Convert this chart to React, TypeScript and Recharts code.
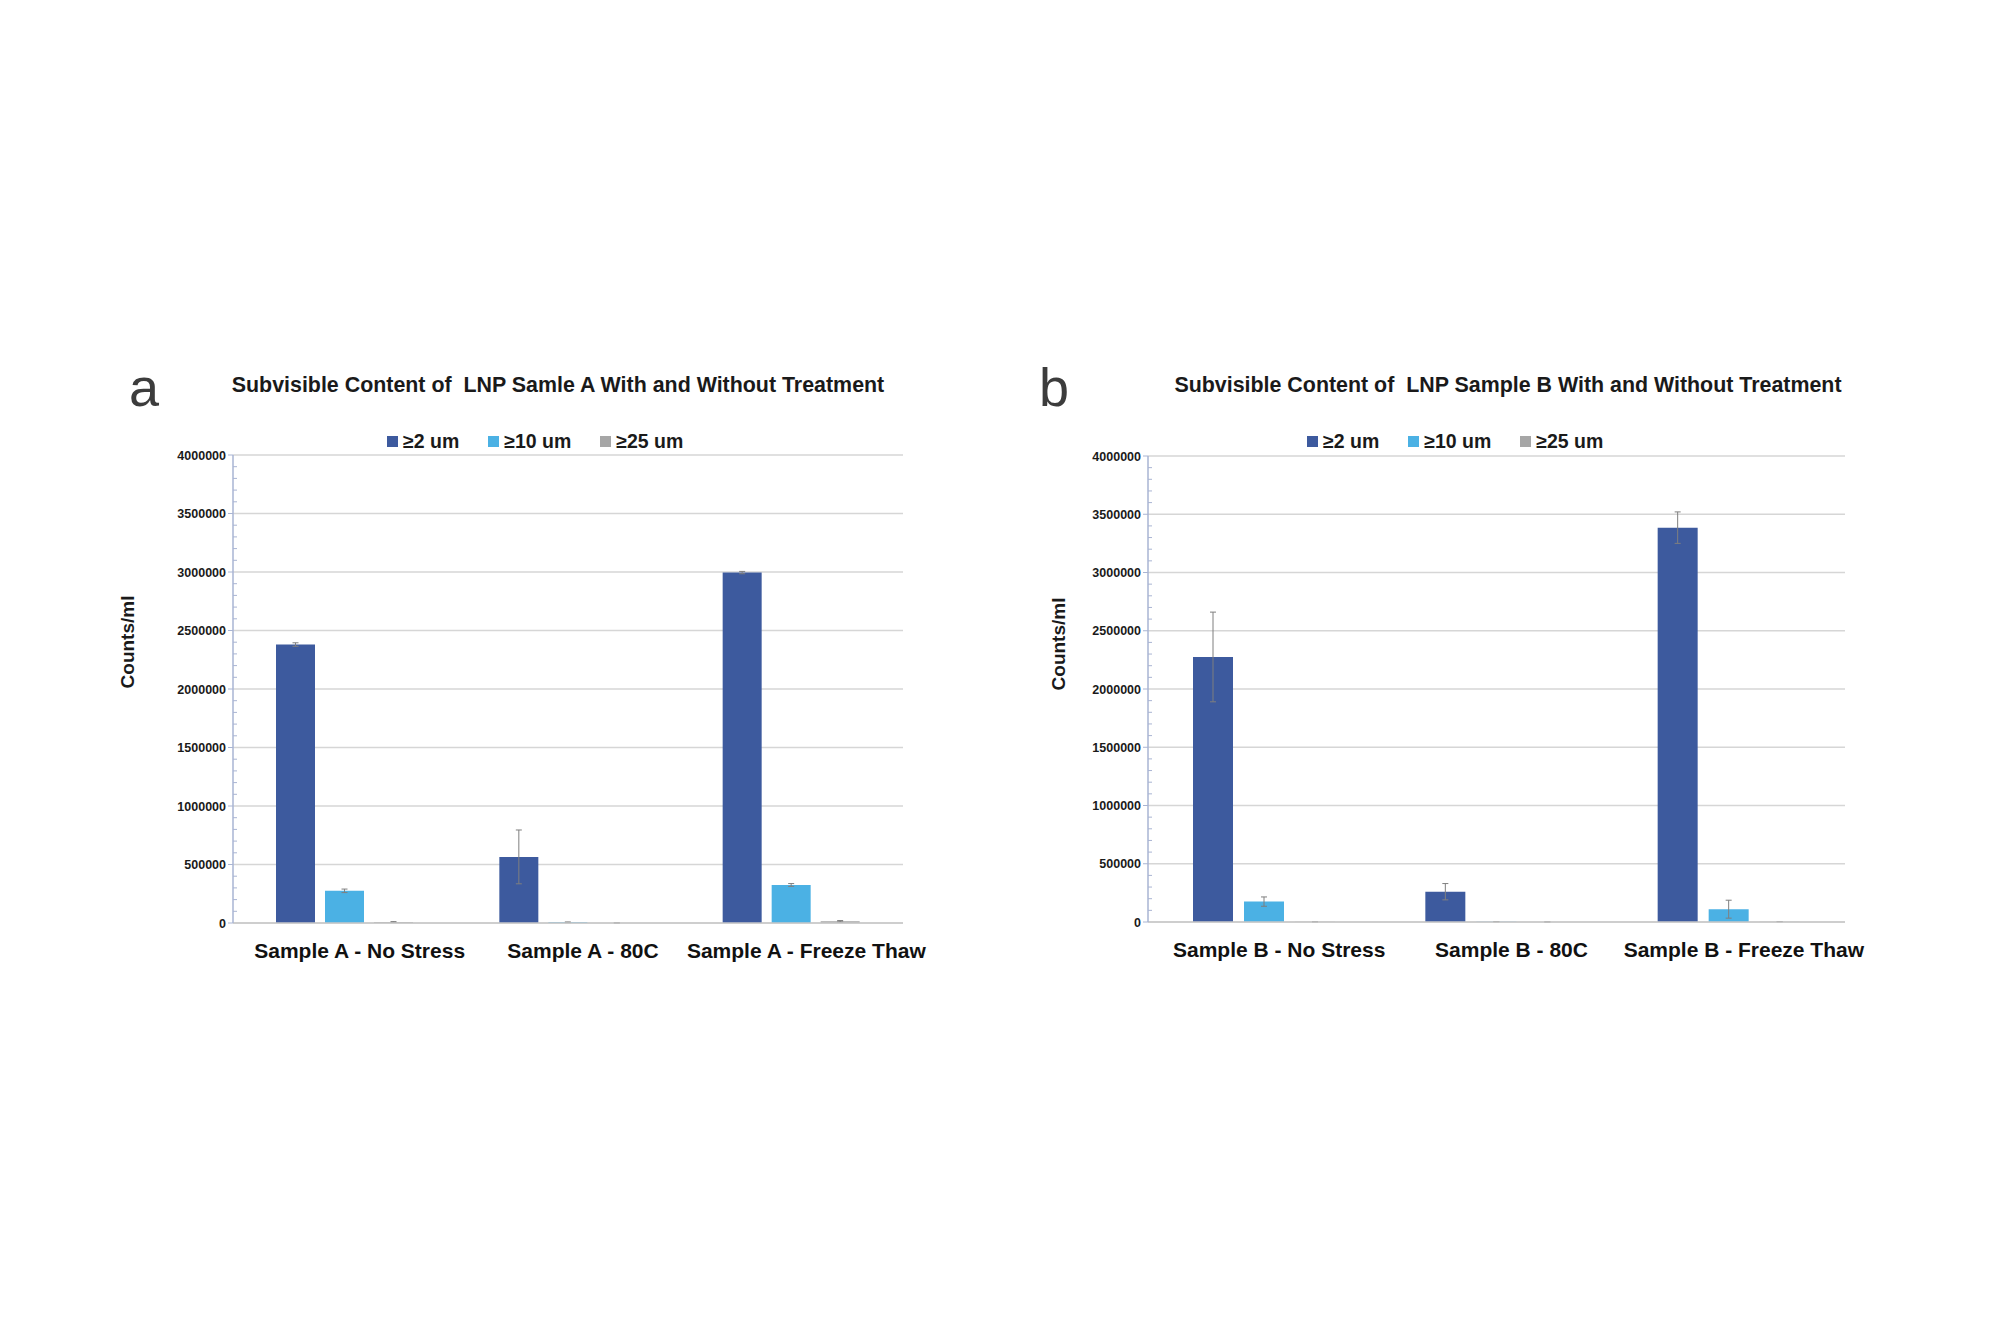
import React from 'react';
import { BarChart, Bar, XAxis, YAxis, CartesianGrid, ErrorBar, Legend } from 'recharts';

const FONT = "'Liberation Sans', Arial, Helvetica, sans-serif";

// Panel a: LNP sample A
const categoriesA = ['Sample A - No Stress', 'Sample A - 80C', 'Sample A - Freeze Thaw'];
const ge2A = [2380000, 565000, 2995000];
const ge2ErrA = [15000, 230000, 10000];
const ge10A = [275000, 6000, 325000];
const ge10ErrA = [15000, 3000, 12000];
const ge25A = [8000, 1000, 15000];
const ge25ErrA = [4000, 500, 6000];

// Panel b: LNP sample B
const categoriesB = ['Sample B - No Stress', 'Sample B - 80C', 'Sample B - Freeze Thaw'];
const ge2B = [2275000, 260000, 3385000];
const ge2ErrB = [385000, 70000, 135000];
const ge10B = [175000, 3000, 110000];
const ge10ErrB = [40000, 1000, 77000];
const ge25B = [2000, 1000, 3000];
const ge25ErrB = [500, 500, 500];

const seriesNames = ['≥2 um', '≥10 um', '≥25 um'];
const seriesColors = ['#3D5A9E', '#4BB1E4', '#A6A6A6'];

const majorTicks = [0, 500000, 1000000, 1500000, 2000000, 2500000, 3000000, 3500000, 4000000];
const minorStep = 100000;
const yMax = 4000000;
const allTicks = Array.from({ length: yMax / minorStep + 1 }, (_, i) => i * minorStep);

const AXIS_Y = '#A9B4D3';
const GRID = '#D6D6D6';
const ERR = '#7F7F7F';

type Row = { name: string; ge2: number; ge2Err: number; ge10: number; ge10Err: number; ge25: number; ge25Err: number };

function buildRows(cats: string[], a: number[], ae: number[], b: number[], be: number[], c: number[], ce: number[]): Row[] {
  return cats.map((name, i) => ({ name, ge2: a[i], ge2Err: ae[i], ge10: b[i], ge10Err: be[i], ge25: c[i], ge25Err: ce[i] }));
}

const rowsA = buildRows(categoriesA, ge2A, ge2ErrA, ge10A, ge10ErrA, ge25A, ge25ErrA);
const rowsB = buildRows(categoriesB, ge2B, ge2ErrB, ge10B, ge10ErrB, ge25B, ge25ErrB);

const YTick = (props: any) => {
  const { x, y, payload } = props;
  const v = payload.value as number;
  if (majorTicks.includes(v)) {
    return (
      <g>
        <line x1={x - 5} x2={x} y1={y} y2={y} stroke={AXIS_Y} strokeWidth={1} />
        <text x={x - 7} y={y} dy="0.36em" textAnchor="end" fontSize={12.5} fontWeight="bold" fill="#1a1a1a" fontFamily={FONT}>
          {v}
        </text>
      </g>
    );
  }
  return <line x1={x} x2={x + 4} y1={y} y2={y} stroke={AXIS_Y} strokeWidth={1} />;
};

const XTick = (props: any) => {
  const { x, y, payload } = props;
  return (
    <text x={x + 15} y={y + 35} textAnchor="middle" fontSize={21} fontWeight="bold" fill="#111" fontFamily={FONT}>
      {payload.value}
    </text>
  );
};

// Legend entries kept in series order (≥2, ≥10, ≥25)
const LegendContent = (props: any) => {
  const fromPayload = (props.payload || []) as any[];
  const items = seriesNames.map((n, i) => {
    const hit = fromPayload.find((p) => p.value === n);
    return { value: n, color: hit ? hit.color : seriesColors[i] };
  });
  return (
    <div style={{ display: 'flex', alignItems: 'center', fontFamily: FONT, fontSize: 19.5, fontWeight: 'bold', color: '#1a1a1a', lineHeight: '22px', whiteSpace: 'nowrap' }}>
      {items.map((it, i) => (
        <div key={i} style={{ display: 'flex', alignItems: 'center', marginRight: i < items.length - 1 ? 29 : 0 }}>
          <span style={{ display: 'inline-block', width: 11, height: 11, background: it.color, marginRight: 5 }} />
          <span>{it.value}</span>
        </div>
      ))}
    </div>
  );
};

type PanelProps = {
  rows: Row[];
  left: number;
  top: number;
  width: number;
  height: number;
  margin: { top: number; right: number; bottom: number; left: number };
  barSize: number;
  barGap: number;
  legendLeft: number;
  legendTop: number;
};

const Panel = ({ rows, left, top, width, height, margin, barSize, barGap, legendLeft, legendTop }: PanelProps) => (
  <div style={{ position: 'absolute', left, top }}>
    <BarChart width={width} height={height} data={rows} margin={margin} barSize={barSize} barGap={barGap}>
      <CartesianGrid vertical={false} horizontalValues={majorTicks} stroke={GRID} strokeWidth={1.5} />
      <XAxis
        dataKey="name"
        height={50}
        interval={0}
        tickLine={false}
        tickSize={0}
        tickMargin={0}
        axisLine={{ stroke: '#C8C8C8', strokeWidth: 1.5 }}
        tick={<XTick />}
      />
      <YAxis
        width={80}
        domain={[0, yMax]}
        ticks={allTicks}
        interval={0}
        tickLine={false}
        tickSize={0}
        tickMargin={0}
        axisLine={{ stroke: AXIS_Y, strokeWidth: 1.5 }}
        tick={<YTick />}
      />
      <Legend
        layout="horizontal"
        verticalAlign="middle"
        align="center"
        content={<LegendContent />}
        wrapperStyle={{ left: legendLeft, top: legendTop, width: 'auto' }}
      />
      <Bar dataKey="ge2" name={seriesNames[0]} fill={seriesColors[0]} isAnimationActive={false}>
        <ErrorBar dataKey="ge2Err" width={3} stroke={ERR} strokeWidth={1} direction="y" />
      </Bar>
      <Bar dataKey="ge10" name={seriesNames[1]} fill={seriesColors[1]} isAnimationActive={false}>
        <ErrorBar dataKey="ge10Err" width={3} stroke={ERR} strokeWidth={1} direction="y" />
      </Bar>
      <Bar dataKey="ge25" name={seriesNames[2]} fill={seriesColors[2]} isAnimationActive={false}>
        <ErrorBar dataKey="ge25Err" width={3} stroke={ERR} strokeWidth={1} direction="y" />
      </Bar>
    </BarChart>
  </div>
);

export default function App() {
  return (
    <div style={{ position: 'absolute', left: 0, top: 0, width: 2000, height: 1333, background: '#fff', overflow: 'hidden' }}>
      <Panel
        rows={rowsA}
        left={80}
        top={400}
        width={860}
        height={600}
        margin={{ top: 55, right: 37, bottom: 27, left: 73 }}
        barSize={39}
        barGap={10}
        legendLeft={307}
        legendTop={30}
      />
      <Panel
        rows={rowsB}
        left={1000}
        top={400}
        width={900}
        height={600}
        margin={{ top: 56, right: 55, bottom: 28, left: 68 }}
        barSize={40}
        barGap={11}
        legendLeft={307}
        legendTop={30}
      />
      <svg width={2000} height={1333} style={{ position: 'absolute', left: 0, top: 0, pointerEvents: 'none' }}>
        <text x={144} y={406} textAnchor="middle" fontSize={54} fill="#3c3c3c" fontFamily={FONT}>a</text>
        <text x={1054} y={406} textAnchor="middle" fontSize={54} fill="#3c3c3c" fontFamily={FONT}>b</text>
        <text x={558} y={392} textAnchor="middle" fontSize={21.4} fontWeight="bold" fill="#1a1a1a" fontFamily={FONT} xmlSpace="preserve" style={{ whiteSpace: 'pre' }}>
          {'Subvisible Content of  LNP Samle A With and Without Treatment'}
        </text>
        <text x={1508} y={392} textAnchor="middle" fontSize={21.4} fontWeight="bold" fill="#1a1a1a" fontFamily={FONT} xmlSpace="preserve" style={{ whiteSpace: 'pre' }}>
          {'Subvisible Content of  LNP Sample B With and Without Treatment'}
        </text>
        <text transform="translate(134,642) rotate(-90)" textAnchor="middle" fontSize={19} fontWeight="bold" fill="#1a1a1a" fontFamily={FONT}>
          Counts/ml
        </text>
        <text transform="translate(1065,644) rotate(-90)" textAnchor="middle" fontSize={19} fontWeight="bold" fill="#1a1a1a" fontFamily={FONT}>
          Counts/ml
        </text>
      </svg>
    </div>
  );
}
